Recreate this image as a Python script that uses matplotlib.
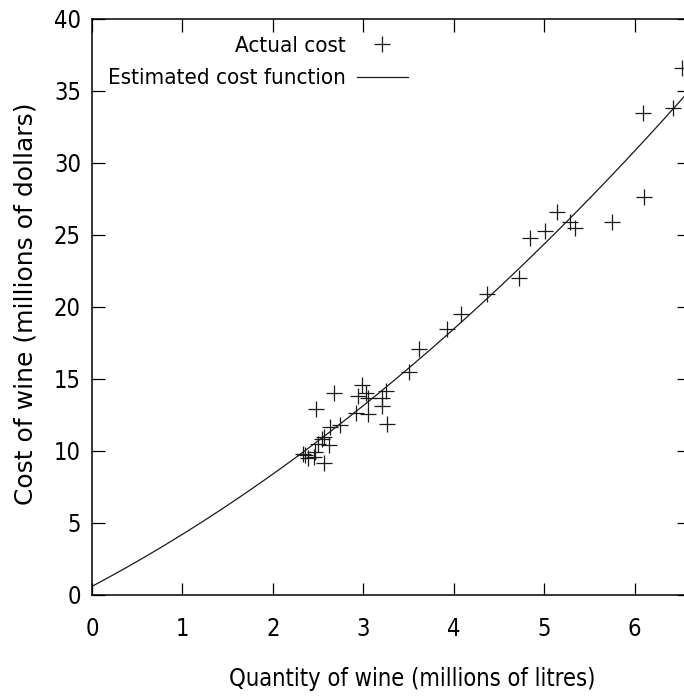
import os
import numpy as np
import matplotlib
matplotlib.use("Agg")
import matplotlib.pyplot as plt
from matplotlib import font_manager

# quantity of wine (millions of litres) and actual cost (millions of dollars)
quantity = [2.33, 2.35, 2.39, 2.45, 2.46, 2.48, 2.50, 2.54, 2.56, 2.57,
            2.62, 2.63, 2.67, 2.74, 2.92, 2.94, 2.98, 3.03, 3.05, 3.05,
            3.21, 3.21, 3.25, 3.26, 3.51, 3.61, 3.92, 4.08, 4.37, 4.72,
            4.84, 5.01, 5.14, 5.28, 5.34, 5.75, 6.09, 6.10, 6.42, 6.52]
cost = [9.8, 9.7, 9.5, 9.6, 9.95, 12.9, 10.5, 10.8, 9.15, 11.0,
        10.4, 11.7, 14.05, 11.8, 12.66, 13.8, 14.6, 14.0, 13.7, 12.55,
        13.66, 13.1, 14.2, 11.9, 15.5, 17.1, 18.5, 19.5, 20.9, 22.0,
        24.8, 25.3, 26.6, 25.9, 25.5, 25.9, 33.5, 27.66, 33.8, 36.6]

# estimated cost function  c0 + c1*q + c2*q^2
coef = [0.6, 3.33, 0.285]

xticks = [0, 1, 2, 3, 4, 5, 6]
yticks = [0, 5, 10, 15, 20, 25, 30, 35, 40]


def narrow_font(size):
    """DejaVu Sans Condensed (or a close narrow sans) for the gnuplot-ish labels."""
    wanted = ['DejaVuSansCondensed.ttf', 'LiberationSansNarrow-Regular.ttf']
    files = {os.path.basename(f.fname): f.fname
             for f in font_manager.fontManager.ttflist}
    for w in wanted:
        if w in files:
            return font_manager.FontProperties(fname=files[w], size=size)
    return font_manager.FontProperties(family='DejaVu Sans', size=size - 2)


fp = narrow_font(17)
fp_key = narrow_font(16)

fig = plt.figure(figsize=(6.84, 6.96), dpi=100)
ax = fig.add_axes([92/684, 101/696, 597/684, 576/696])

q = np.linspace(0, 6.6, 300)
est = coef[0] + coef[1]*q + coef[2]*q**2

ax.plot(quantity, cost, linestyle='none', marker='+', markersize=12,
        markeredgewidth=0.9, color='#1a1a1a', label='Actual cost')
ax.plot(q, est, color='#1a1a1a', linewidth=0.9, label='Estimated cost function')

ax.set_xlim(0, 6.6)
ax.set_ylim(0, 40)
ax.set_xticks(xticks)
ax.set_yticks(yticks)
ax.tick_params(direction='in', length=9, width=0.9, top=True, right=True,
               colors='black')
ax.tick_params(axis='x', pad=16)
ax.tick_params(axis='y', pad=8)
for lab in ax.get_xticklabels() + ax.get_yticklabels():
    lab.set_fontproperties(fp)
for sp in ax.spines.values():
    sp.set_linewidth(1.1)

ax.set_xlabel('Quantity of wine (millions of litres)', fontproperties=fp)
ax.xaxis.set_label_coords((412 - 92) / 597, (595 - 667) / 576)
ax.set_ylabel('Cost of wine (millions of dollars)', family='DejaVu Sans',
              fontsize=18)
ax.yaxis.set_label_coords((38 - 92) / 597, (595 - 304) / 576)

ax.legend(loc='upper right', bbox_to_anchor=(419/684, 1 - 25/696),
          bbox_transform=fig.transFigure, frameon=False, markerfirst=False,
          prop=fp_key, handlelength=2.3, labelspacing=0.55, borderpad=0,
          handletextpad=0.5)

fig.savefig('out.png', dpi=100)
